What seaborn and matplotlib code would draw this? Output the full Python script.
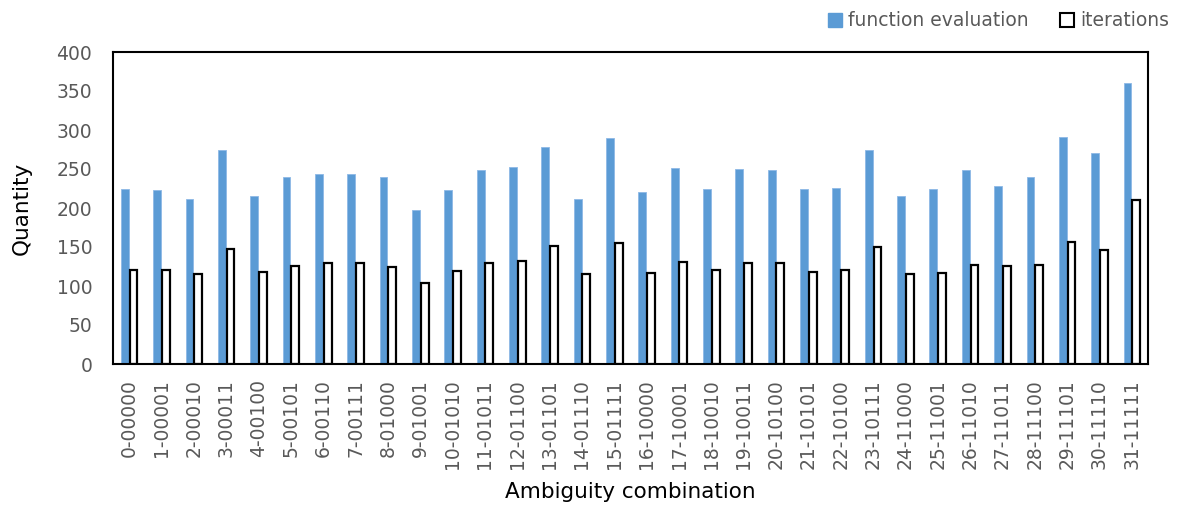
import matplotlib
matplotlib.use("Agg")
import matplotlib.pyplot as plt
from matplotlib.patches import Patch
import seaborn as sns
import pandas as pd

categories = ["0-00000", "1-00001", "2-00010", "3-00011", "4-00100", "5-00101", "6-00110", "7-00111",
              "8-01000", "9-01001", "10-01010", "11-01011", "12-01100", "13-01101", "14-01110", "15-01111",
              "16-10000", "17-10001", "18-10010", "19-10011", "20-10100", "21-10101", "22-10100", "23-10111",
              "24-11000", "25-11001", "26-11010", "27-11011", "28-11100", "29-11101", "30-11110", "31-11111"]
function_evaluation = [224, 223, 211, 275, 215, 240, 243, 244, 240, 197, 223, 249, 252, 278, 211, 290,
                       220, 251, 225, 250, 249, 224, 226, 275, 215, 225, 249, 228, 240, 291, 270, 360]
iterations = [120, 120, 115, 148, 118, 126, 130, 129, 125, 104, 119, 130, 132, 151, 115, 155,
              117, 131, 121, 130, 129, 118, 120, 150, 116, 117, 127, 126, 127, 157, 146, 210]
series_names = ["function evaluation", "iterations"]
y_ticks = [0, 50, 100, 150, 200, 250, 300, 350, 400]

df = pd.DataFrame({
    "cat": categories * 2,
    "value": function_evaluation + iterations,
    "series": [series_names[0]] * len(categories) + [series_names[1]] * len(categories),
})

sns.set_style("white")
plt.rcParams["font.family"] = ["DejaVu Sans"]

fig = plt.figure(figsize=(11.8, 5.09), dpi=100)
ax = fig.add_axes([113 / 1180, 1 - 364 / 509, (1148 - 113) / 1180, (364 - 52) / 509])

blue = "#5B9BD5"
sns.barplot(data=df, x="cat", y="value", hue="series", order=categories,
            hue_order=series_names, palette={series_names[0]: blue, series_names[1]: "white"},
            width=0.54, gap=0.1, ax=ax, legend=False, saturation=1)

for i, cont in enumerate(ax.containers):
    for bar in cont:
        if i == 0:
            bar.set_edgecolor("#8DB8E6")
            bar.set_linewidth(0.6)
        else:
            bar.set_edgecolor("black")
            bar.set_linewidth(1.6)

ax.set_ylim(0, 400)
ax.set_xlim(-0.5, len(categories) - 0.5)
ax.set_yticks(y_ticks)
ax.tick_params(axis="y", length=0, pad=15, labelsize=13.5, labelcolor="#595959")
ax.tick_params(axis="x", length=0, pad=11, labelsize=13.5, labelcolor="#595959", labelrotation=90)

for s in ax.spines.values():
    s.set_visible(True)
    s.set_color("black")
    s.set_linewidth(1.5)

ax.set_xlabel("Ambiguity combination", fontsize=15.5, color="black")
ax.set_ylabel("Quantity", fontsize=15.5, color="black")
ax.yaxis.set_label_coords(-(113 - 32) / 1035, 0.5)
ax.xaxis.set_label_coords(0.5, -(482 - 364) / 312)

handles = [Patch(facecolor=blue, edgecolor=blue, label=series_names[0]),
           Patch(facecolor="white", edgecolor="black", linewidth=1.5, label=series_names[1])]
leg = fig.legend(handles=handles, loc="upper right", bbox_to_anchor=(1.0, 1.0), ncol=2,
                 frameon=False, fontsize=13.5, handlelength=0.75, handleheight=0.75,
                 handletextpad=0.3, columnspacing=1.7, borderaxespad=0.2)
for t in leg.get_texts():
    t.set_color("#595959")

fig.savefig("out.png", dpi=100)
